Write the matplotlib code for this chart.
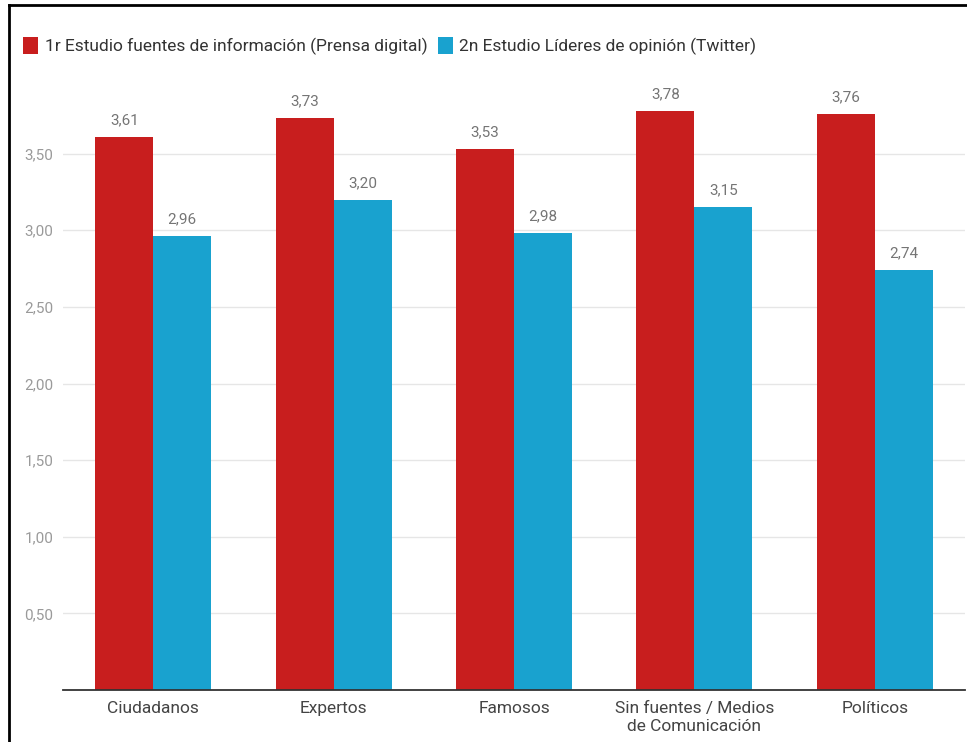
import matplotlib
matplotlib.use("Agg")
import matplotlib.pyplot as plt
from matplotlib.lines import Line2D
import numpy as np

# Data.
categories = ["Ciudadanos", "Expertos", "Famosos",
              "Sin fuentes / Medios\nde Comunicación", "Políticos"]
prensa = [3.61, 3.73, 3.53, 3.78, 3.76]
twitter = [2.96, 3.20, 2.98, 3.15, 2.74]
series_names = ["1r Estudio fuentes de información (Prensa digital)",
                "2n Estudio Líderes de opinión (Twitter)"]
yticks = [0.5, 1.0, 1.5, 2.0, 2.5, 3.0, 3.5]

red = "#c81e1e"
blue = "#19a2cf"

plt.rcParams["font.family"] = ["Roboto", "DejaVu Sans"]

fig = plt.figure(figsize=(9.67, 7.42), dpi=100)
ax = fig.add_axes([63 / 967, 1 - 690 / 742, 902 / 967, 613 / 742])

x = np.arange(len(categories))
w = 0.321
b1 = ax.bar(x - w / 2, prensa, w, color=red, label=series_names[0], zorder=2)
b2 = ax.bar(x + w / 2, twitter, w, color=blue, label=series_names[1], zorder=2)

# Value labels with comma decimals.
for bars, vals in ((b1, prensa), (b2, twitter)):
    for bar, v in zip(bars, vals):
        ax.annotate(f"{v:.2f}".replace(".", ","),
                    (bar.get_x() + bar.get_width() / 2, v),
                    xytext=(0, 7), textcoords="offset points",
                    ha="center", va="bottom", fontsize=11, color="#757575")

ax.set_xlim(-0.5, len(categories) - 0.5)
ax.set_ylim(0, 4.0)
ax.set_yticks(yticks)
ax.set_yticklabels([f"{t:.2f}".replace(".", ",") for t in yticks])
ax.set_xticks(x)
ax.set_xticklabels(categories, fontsize=12.5, color="#444444", linespacing=1.2)
ax.tick_params(axis="y", length=0, pad=7, labelsize=11, labelcolor="#9a9a9a")
ax.tick_params(axis="x", length=0, pad=8)
ax.grid(axis="y", color="#e6e6e6", linewidth=1, zorder=0)
for s in ("top", "right", "left"):
    ax.spines[s].set_visible(False)
ax.spines["bottom"].set_color("#333333")
ax.spines["bottom"].set_linewidth(1.3)
ax.spines["bottom"].set_zorder(3)

fig.legend(handles=[b1, b2], loc="center left",
           bbox_to_anchor=(23 / 967, 1 - 46 / 742), ncol=2, frameon=False,
           fontsize=12.5, labelcolor="#333333", handlelength=0.85,
           handleheight=1.1, handletextpad=0.4, columnspacing=0.6,
           borderaxespad=0, borderpad=0)

# Black frame visible on the left and top of the screenshot.
fig.add_artist(Line2D([9 / 967, 9 / 967], [0, 1 - 5 / 742],
                      transform=fig.transFigure, color="black", linewidth=2))
fig.add_artist(Line2D([9 / 967, 1], [1 - 5 / 742, 1 - 5 / 742],
                      transform=fig.transFigure, color="black", linewidth=2))

fig.savefig("out.png", dpi=100)
